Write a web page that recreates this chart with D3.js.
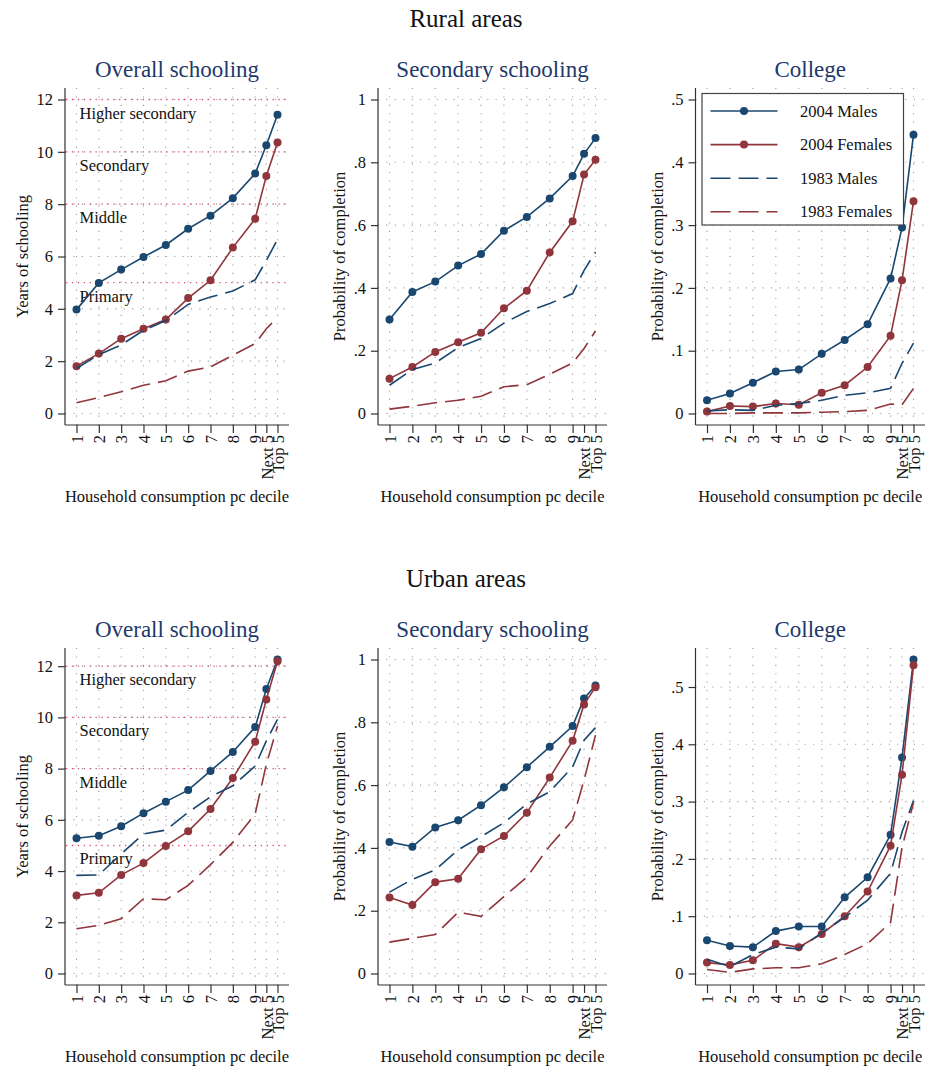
<!DOCTYPE html>
<html>
<head>
<meta charset="utf-8">
<script src="https://cdn.jsdelivr.net/npm/d3@7"></script>
<style>
  body { margin: 0; background: #ffffff; }
  text { font-family: "Liberation Serif", "Times New Roman", serif; }
</style>
</head>
<body>
<svg id="chart" width="932" height="1071"></svg>
<script>
// ---- Data -------------------------------------------------------------
const deciles   = ["1", "2", "3", "4", "5", "6", "7", "8", "9", "Next 5", "Top 5"];
const decilePos = [1, 2, 3, 4, 5, 6, 7, 8, 9, 9.5, 10];

const seriesNames = ["2004 Males", "2004 Females", "1983 Males", "1983 Females"];

// Rural: average years of schooling
const ruralYearsM04 = [3.97, 4.99, 5.50, 5.98, 6.44, 7.06, 7.56, 8.23, 9.17, 10.25, 11.42];
const ruralYearsF04 = [1.81, 2.29, 2.86, 3.24, 3.59, 4.41, 5.09, 6.34, 7.44, 9.08, 10.36];
const ruralYearsM83 = [1.72, 2.25, 2.62, 3.18, 3.55, 4.17, 4.45, 4.68, 5.11, 5.85, 6.65];
const ruralYearsF83 = [0.41, 0.61, 0.83, 1.08, 1.25, 1.62, 1.78, 2.23, 2.67, 3.24, 3.66];

// Rural: probability of completing secondary school
const ruralSecM04 = [0.299, 0.387, 0.420, 0.471, 0.508, 0.582, 0.626, 0.685, 0.756, 0.827, 0.877];
const ruralSecF04 = [0.111, 0.148, 0.196, 0.227, 0.257, 0.335, 0.391, 0.513, 0.612, 0.761, 0.808];
const ruralSecM83 = [0.090, 0.140, 0.161, 0.210, 0.239, 0.288, 0.325, 0.350, 0.382, 0.456, 0.514];
const ruralSecF83 = [0.014, 0.023, 0.034, 0.042, 0.055, 0.085, 0.092, 0.125, 0.161, 0.207, 0.263];

// Rural: probability of completing college
const ruralColM04 = [0.021, 0.032, 0.049, 0.067, 0.070, 0.095, 0.117, 0.142, 0.215, 0.296, 0.444];
const ruralColF04 = [0.003, 0.012, 0.011, 0.016, 0.014, 0.033, 0.045, 0.074, 0.124, 0.212, 0.338];
const ruralColM83 = [0.004, 0.006, 0.005, 0.013, 0.016, 0.021, 0.029, 0.033, 0.040, 0.080, 0.112];
const ruralColF83 = [0.000, 0.000, 0.001, 0.001, 0.001, 0.002, 0.003, 0.005, 0.015, 0.014, 0.040];

// Urban: average years of schooling
const urbanYearsM04 = [5.28, 5.38, 5.75, 6.26, 6.71, 7.16, 7.91, 8.65, 9.62, 11.11, 12.26];
const urbanYearsF04 = [3.05, 3.15, 3.85, 4.31, 4.98, 5.55, 6.42, 7.63, 9.05, 10.70, 12.19];
const urbanYearsM83 = [3.83, 3.85, 4.67, 5.45, 5.60, 6.29, 6.90, 7.33, 8.10, 9.08, 9.92];
const urbanYearsF83 = [1.75, 1.88, 2.14, 2.92, 2.88, 3.44, 4.25, 5.12, 6.23, 8.17, 9.66];

// Urban: probability of completing secondary school
const urbanSecM04 = [0.419, 0.404, 0.465, 0.488, 0.536, 0.593, 0.657, 0.722, 0.788, 0.876, 0.917];
const urbanSecF04 = [0.242, 0.218, 0.291, 0.302, 0.396, 0.438, 0.512, 0.624, 0.741, 0.857, 0.912];
const urbanSecM83 = [0.259, 0.300, 0.330, 0.394, 0.436, 0.480, 0.540, 0.579, 0.658, 0.743, 0.783];
const urbanSecF83 = [0.100, 0.112, 0.124, 0.195, 0.182, 0.245, 0.307, 0.406, 0.489, 0.616, 0.759];

// Urban: probability of completing college
const urbanColM04 = [0.058, 0.048, 0.046, 0.074, 0.082, 0.082, 0.133, 0.168, 0.242, 0.377, 0.548];
const urbanColF04 = [0.019, 0.015, 0.023, 0.052, 0.046, 0.069, 0.100, 0.143, 0.223, 0.347, 0.538];
const urbanColM83 = [0.025, 0.012, 0.033, 0.046, 0.043, 0.071, 0.098, 0.128, 0.175, 0.247, 0.302];
const urbanColF83 = [0.007, 0.002, 0.008, 0.010, 0.010, 0.017, 0.033, 0.052, 0.089, 0.220, 0.298];

// Axis ticks
const yTicksYears = [0, 2, 4, 6, 8, 10, 12];
const yTicksSec   = [0, 0.2, 0.4, 0.6, 0.8, 1];
const yTicksCol   = [0, 0.1, 0.2, 0.3, 0.4, 0.5];

// Schooling-level reference lines
const refValues = [5, 8, 10, 12];
const refLabels = ["Primary", "Middle", "Secondary", "Higher secondary"];

const areaTitles  = ["Rural areas", "Urban areas"];
const panelTitles = ["Overall schooling", "Secondary schooling", "College"];
const yTitles     = ["Years of schooling", "Probability of completion", "Probability of completion"];
const xTitle      = "Household consumption pc decile";

// ---- Styling / layout -------------------------------------------------
const NAVY = "#1a476f", MAROON = "#90353b", TITLE = "#22386a";
const seriesStyle = [
  { color: NAVY,   dash: null,   marker: true },
  { color: MAROON, dash: null,   marker: true },
  { color: NAVY,   dash: "20,8", marker: false },
  { color: MAROON, dash: "20,8", marker: false }
];

const plotLeft   = [65, 378, 695.5];
const plotRight  = [289, 607, 925];
const plotTop    = [88, 648];
const plotBottom = [425, 985];
const inset = 11.5;

const panels = [
  { row: 0, col: 0, ticks: yTicksYears, refs: true,  series: [ruralYearsM04, ruralYearsF04, ruralYearsM83, ruralYearsF83] },
  { row: 0, col: 1, ticks: yTicksSec,   refs: false, series: [ruralSecM04, ruralSecF04, ruralSecM83, ruralSecF83] },
  { row: 0, col: 2, ticks: yTicksCol,   refs: false, series: [ruralColM04, ruralColF04, ruralColM83, ruralColF83], legend: true },
  { row: 1, col: 0, ticks: yTicksYears, refs: true,  series: [urbanYearsM04, urbanYearsF04, urbanYearsM83, urbanYearsF83] },
  { row: 1, col: 1, ticks: yTicksSec,   refs: false, series: [urbanSecM04, urbanSecF04, urbanSecM83, urbanSecF83] },
  { row: 1, col: 2, ticks: yTicksCol,   refs: false, series: [urbanColM04, urbanColF04, urbanColM83, urbanColF83] }
];

const fmtY = d => d === 0 ? "0" : (d < 1 ? String(d).replace(/^0/, "") : String(d));

const svg = d3.select("#chart");

// Row super-titles
areaTitles.forEach((t, r) => {
  svg.append("text")
    .attr("x", 466).attr("y", 26.5 + r * 560)
    .attr("text-anchor", "middle")
    .attr("font-size", 25).attr("fill", "#111")
    .text(t);
});

panels.forEach(p => {
  const L = plotLeft[p.col], R = plotRight[p.col];
  const T = plotTop[p.row],  B = plotBottom[p.row];
  const g = svg.append("g");

  const x = d3.scaleLinear().domain([1, 10]).range([L + inset, R - inset]);
  const yMax = Math.max(p.ticks[p.ticks.length - 1], d3.max(p.series.flat()));
  const y = d3.scaleLinear().domain([0, yMax]).range([B - inset, T + inset]);

  // Panel title
  g.append("text")
    .attr("x", (L + R) / 2).attr("y", T - 11)
    .attr("text-anchor", "middle")
    .attr("font-size", 23).attr("fill", TITLE)
    .text(panelTitles[p.col]);

  // Dotted grid
  const grid = g.append("g").attr("stroke", "#9a9a9a").attr("stroke-width", 1.1)
    .attr("stroke-dasharray", "1.1,7.3").attr("fill", "none");
  decilePos.forEach(v => {
    grid.append("line").attr("x1", x(v)).attr("x2", x(v)).attr("y1", T).attr("y2", B);
  });
  p.ticks.forEach(v => {
    grid.append("line").attr("x1", L).attr("x2", R).attr("y1", y(v)).attr("y2", y(v));
  });

  // Schooling-level reference lines and labels
  if (p.refs) {
    refValues.forEach((v, i) => {
      g.append("line")
        .attr("x1", L + 1).attr("x2", R).attr("y1", y(v)).attr("y2", y(v))
        .attr("stroke", "#d8506c").attr("stroke-width", 1.4)
        .attr("stroke-dasharray", "1.3,4.6");
      g.append("text")
        .attr("x", L + 14.5).attr("y", y(v) + 19)
        .attr("font-size", 16.5).attr("fill", "#111")
        .text(refLabels[i]);
    });
  }

  // Axes
  const yAxis = d3.axisLeft(y).tickValues(p.ticks).tickFormat(fmtY).tickSize(7).tickPadding(5).tickSizeOuter(0);
  const ya = g.append("g").attr("transform", `translate(${L},0)`).call(yAxis);
  ya.select(".domain").attr("d", `M0,${T}V${B}`);
  const xAxis = d3.axisBottom(x).tickValues(decilePos)
    .tickFormat((d, i) => deciles[i]).tickSize(8).tickSizeOuter(0);
  const xa = g.append("g").attr("transform", `translate(0,${B})`).call(xAxis);
  xa.select(".domain").attr("d", `M${L},0H${R}`);
  [ya, xa].forEach(a => {
    a.selectAll(".domain, .tick line").attr("stroke", "#333").attr("stroke-width", 1.2);
    a.selectAll("text").attr("font-family", "Liberation Serif, serif").attr("font-size", 16.5).attr("fill", "#111");
  });
  xa.selectAll(".tick text")
    .attr("transform", "rotate(-90)")
    .attr("text-anchor", "end")
    .attr("x", -10).attr("y", 0).attr("dy", "0.35em");

  // Axis titles
  let maxW = 0;
  ya.selectAll(".tick text").each(function () { maxW = Math.max(maxW, this.getBBox().width); });
  const yTitleX = L - 12 - maxW - 14;
  g.append("text")
    .attr("transform", `translate(${yTitleX},${(T + B) / 2}) rotate(-90)`)
    .attr("text-anchor", "middle").attr("dy", "0.35em")
    .attr("font-size", 16.5).attr("fill", "#111")
    .text(yTitles[p.col]);
  g.append("text")
    .attr("x", (L + R) / 2).attr("y", B + 77)
    .attr("text-anchor", "middle")
    .attr("font-size", 16.5).attr("fill", "#111")
    .text(xTitle);

  // Series lines and markers
  const line = d3.line().x((d, i) => x(decilePos[i])).y(d => y(d));
  p.series.forEach((vals, s) => {
    const st = seriesStyle[s];
    g.append("path").datum(vals)
      .attr("d", line).attr("fill", "none")
      .attr("stroke", st.color).attr("stroke-width", 1.6)
      .attr("stroke-dasharray", st.dash);
    if (st.marker) {
      g.selectAll(null).data(vals).enter().append("circle")
        .attr("cx", (d, i) => x(decilePos[i])).attr("cy", d => y(d))
        .attr("r", 4).attr("fill", st.color);
    }
  });

  // Legend
  if (p.legend) {
    const lg = g.append("g");
    const bx = L + 6.5, by = T + 5.5, bw = 201.5, bh = 131.5;
    lg.append("rect").attr("x", bx).attr("y", by).attr("width", bw).attr("height", bh)
      .attr("fill", "#fff").attr("stroke", "#444").attr("stroke-width", 1.2);
    seriesNames.forEach((name, s) => {
      const st = seriesStyle[s];
      const ry = by + 17.5 + s * 33.6;
      lg.append("line").attr("x1", bx + 8.5).attr("x2", bx + 75.5).attr("y1", ry).attr("y2", ry)
        .attr("stroke", st.color).attr("stroke-width", 1.6).attr("stroke-dasharray", st.dash);
      if (st.marker) {
        lg.append("circle").attr("cx", bx + 42).attr("cy", ry).attr("r", 4).attr("fill", st.color);
      }
      lg.append("text").attr("x", bx + 98).attr("y", ry + 5.5)
        .attr("font-size", 16.5).attr("fill", "#111").text(name);
    });
  }
});
</script>
</body>
</html>
